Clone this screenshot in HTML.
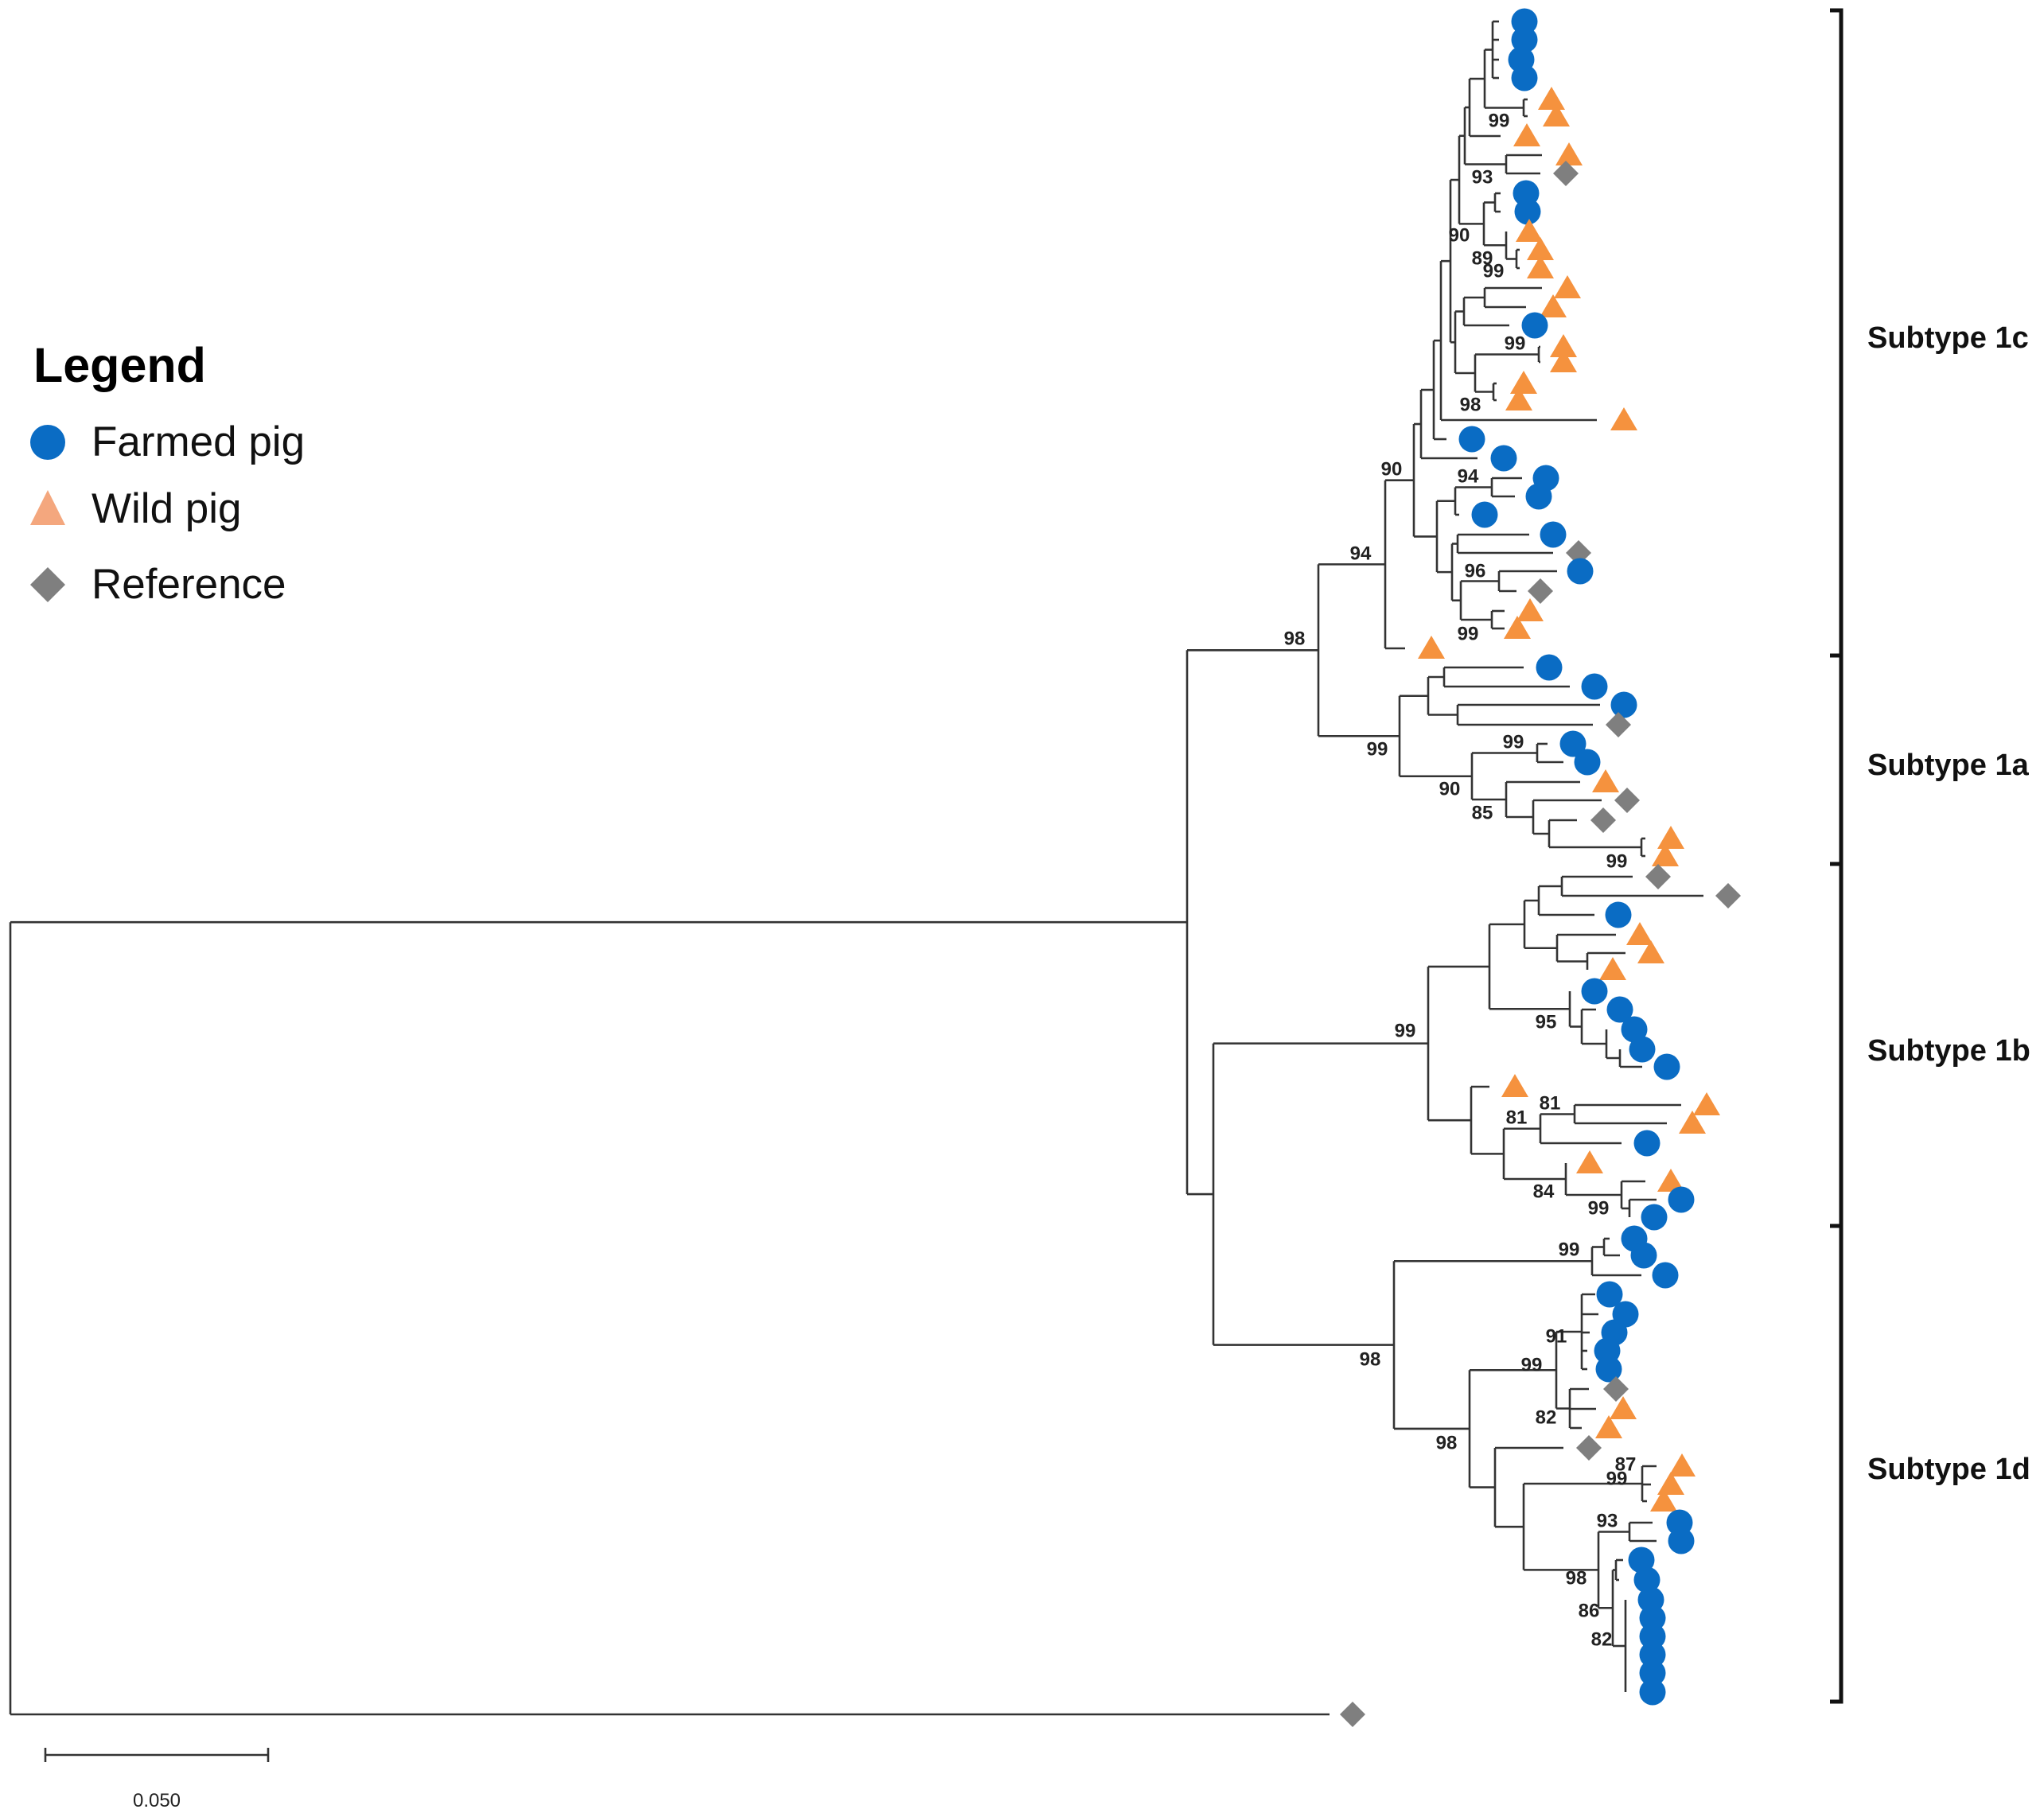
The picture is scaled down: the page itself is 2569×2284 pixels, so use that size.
<!DOCTYPE html>
<html><head><meta charset="utf-8"><title>Phylogenetic tree</title>
<style>html,body{margin:0;padding:0;background:#fff}svg{display:block}</style></head>
<body>
<svg id="chart" width="2569" height="2284" viewBox="0 0 2569 2284" xmlns="http://www.w3.org/2000/svg" font-family="Liberation Sans, Arial, sans-serif">
  <g id="branches" stroke="#333" stroke-width="2.6" fill="none"></g>
  <g id="labels" font-size="24" font-weight="bold" fill="#222" text-anchor="middle" dominant-baseline="central"></g>
  <g id="markers"></g>
  <g>
    <text x="42" y="480" font-size="61" font-weight="bold" fill="#000">Legend</text>
    <circle cx="60" cy="556" r="22" fill="#0a6cc4"/>
    <text x="115" y="573" font-size="53" fill="#111">Farmed pig</text>
    <polygon points="60,616 82,660 38,660" fill="#f4a77e"/>
    <text x="115" y="657" font-size="53" fill="#111">Wild pig</text>
    <polygon points="60,713 82,735 60,757 38,735" fill="#7f7f7f"/>
    <text x="115" y="752" font-size="53" fill="#111">Reference</text>
  </g>
  <g stroke="#333" stroke-width="2.6">
    <line x1="57" y1="2206" x2="337" y2="2206"/>
    <line x1="57" y1="2197" x2="57" y2="2215"/>
    <line x1="337" y1="2197" x2="337" y2="2215"/>
  </g>
  <text x="197" y="2271" font-size="24" fill="#222" text-anchor="middle">0.050</text>
  <g stroke="#111" stroke-width="5" fill="none">
    <path d="M2300,13 H2314 V2139 H2300 M2300,824 H2314 M2300,1086 H2314 M2300,1541 H2314"/>
  </g>
  <g font-size="38" font-weight="bold" fill="#111">
    <text x="2347" y="437">Subtype 1c</text>
    <text x="2347" y="974">Subtype 1a</text>
    <text x="2347" y="1333">Subtype 1b</text>
    <text x="2347" y="1859">Subtype 1d</text>
  </g>
</svg>
<script>
// Tree data: N(nodeX, children), T(branchEndX, tipY, type, markerX)
function N(x, c) { return {x: x, c: c}; }
function T(x, y, t, mx) { return {x: x, y: y, t: t, mx: mx}; }

const clade1c = N(1802,[
 N(1811,[
  N(1823,[
   N(1834,[
    N(1841,[
     N(1847,[
      N(1866,[ N(1876,[T(1884,27,'c',1916),T(1884,50,'c',1916),T(1884,75,'c',1912),T(1884,98,'c',1916)]), N(1915,[T(1920,125,'t',1950),T(1920,146,'t',1956)]) ]),
      T(1886,171,'t',1919)
     ]),
     N(1893,[T(1938,195,'t',1972),T(1936,218,'d',1968)])
    ]),
    N(1865,[ N(1879,[T(1886,243,'c',1918),T(1886,266,'c',1920)]), N(1893,[T(1893,291,'t',1922), N(1906,[T(1910,314,'t',1936),T(1910,337,'t',1936)])]) ])
   ]),
   N(1829,[
    N(1840,[ N(1866,[T(1938,362,'t',1970),T(1918,386,'t',1952)]), T(1897,409,'c',1929) ]),
    N(1854,[ N(1934,[T(1936,436,'t',1965),T(1936,455,'t',1965)]), N(1877,[T(1881,482,'t',1915),T(1881,503,'t',1909)]) ])
   ])
  ]),
  T(2007,528,'t',2041)
 ]),
 T(1818,552,'c',1850)
]);
const clade1cLower = N(1806,[
 N(1829,[N(1875,[T(1913,601,'c',1943),T(1904,624,'c',1934)]), T(1834,647,'c',1866)]),
 N(1825,[N(1832,[T(1922,672,'c',1952),T(1952,695,'d',1984)]),
   N(1836,[N(1884,[T(1957,718,'c',1986),T(1906,743,'d',1936)]), N(1875,[T(1891,768,'t',1923),T(1891,790,'t',1907)])])])
]);
const node1c = N(1741,[ N(1777,[ N(1786,[clade1c, T(1857,576,'c',1890)]), clade1cLower ]), T(1766,815,'t',1799) ]);
const clade1a = N(1759,[
 N(1795,[N(1815,[T(1915,839,'c',1947),T(1973,863,'c',2004)]), N(1832,[T(2011,886,'c',2041),T(2002,911,'d',2034)])]),
 N(1850,[N(1932,[T(1945,935,'c',1977),T(1965,958,'c',1995)]),
   N(1893,[T(1986,983,'t',2018), N(1927,[T(2013,1006,'d',2045), N(1947,[T(1982,1031,'d',2015), N(2063,[T(2068,1054,'t',2100),T(2068,1076,'t',2093)])])])])])
]);
const clade1b = N(1795,[
 N(1872,[
  N(1916,[N(1934,[N(1963,[T(2052,1102,'d',2084),T(2141,1126,'d',2172)]), T(2004,1150,'c',2034)]),
          N(1957,[T(2031,1175,'t',2061), N(1995,[T(2043,1198,'t',2075),T(1995,1219,'t',2027)])])]),
  N(1973,[T(1973,1246,'c',2004), N(1988,[T(2006,1269,'c',2036), N(2019,[T(2019,1294,'c',2054), N(2036,[T(2036,1319,'c',2064),T(2064,1341,'c',2095)])])])])
 ]),
 N(1849,[T(1872,1366,'t',1904),
  N(1890,[N(1936,[N(1979,[T(2113,1389,'t',2145),T(2095,1412,'t',2127)]), T(2038,1437,'c',2070)]),
          N(1968,[T(1968,1462,'t',1998), N(2038,[T(2068,1485,'t',2100), N(2048,[T(2082,1508,'c',2113),T(2048,1530,'c',2079)])])])])
 ])
]);
const clade1d = N(1752,[
 N(2001,[N(2016,[T(2023,1557,'c',2054),T(2036,1578,'c',2066)]), T(2063,1603,'c',2093)]),
 N(1847,[
  N(1956,[N(1988,[T(2005,1627,'c',2023),T(2009,1652,'c',2043),T(1998,1675,'c',2029),T(1995,1698,'c',2020),T(1995,1721,'c',2022)]),
          N(1973,[T(1997,1746,'d',2031),T(2006,1771,'t',2040),T(1988,1795,'t',2022)])]),
  N(1879,[T(1965,1820,'d',1997),
   N(1915,[N(2064,[T(2082,1843,'t',2114),T(2075,1866,'t',2100),T(2070,1887,'t',2091)]),
     N(2009,[N(2048,[T(2077,1914,'c',2111),T(2082,1937,'c',2113)]),
       N(2027,[N(2031,[T(2040,1961,'c',2063),T(2035,1986,'c',2070)]),
         N(2043,[T(2043,2011,'c',2075),T(2043,2034,'c',2077),T(2043,2057,'c',2077),T(2043,2080,'c',2077),T(2043,2103,'c',2077),T(2043,2127,'c',2077)])])])])
  ])
 ])
]);
const tree = N(13,[ N(1492,[ N(1657,[node1c, clade1a]), N(1525,[clade1b, clade1d]) ]), T(1671,2155,'d',1700) ]);

const supportText = ['99','93','90','89','99','99','98','90','94','96','99','94','98','99','99','90','85','99','99','95','81','81','84','99','99','98','98','99','91','82','87','99','93','98','86','82'];
const supportX = [1884,1863,1834,1863,1877,1904,1848,1749,1845,1854,1845,1710,1627,1731,1902,1822,1863,2032,1766,1943,1948,1906,1940,2009,1972,1722,1818,1925,1956,1943,2043,2032,2020,1981,1997,2013];
const supportY = [152,223,296,325,341,432,509,590,599,718,797,696,803,942,933,992,1022,1083,1296,1285,1387,1405,1498,1519,1571,1709,1814,1716,1680,1782,1841,1859,1912,1984,2025,2061];

const NS = 'http://www.w3.org/2000/svg';
const gB = document.getElementById('branches');
const gM = document.getElementById('markers');
const gL = document.getElementById('labels');
const colors = {c:'#0a6cc4', t:'#f5923e', d:'#7f7f7f'};

function layout(n) {
  if (!n.c) return n.y;
  n.c.forEach(layout);
  n.y = (n.c[0].y + n.c[n.c.length-1].y) / 2;
  return n.y;
}
layout(tree);

function line(x1,y1,x2,y2) {
  const l = document.createElementNS(NS,'line');
  l.setAttribute('x1',x1); l.setAttribute('y1',y1); l.setAttribute('x2',x2); l.setAttribute('y2',y2);
  
  
  gB.appendChild(l);
}
function marker(t, x, y) {
  let el;
  if (t === 'c') {
    el = document.createElementNS(NS,'circle');
    el.setAttribute('cx',x); el.setAttribute('cy',y); el.setAttribute('r',16.5);
    
  } else if (t === 't') {
    el = document.createElementNS(NS,'polygon');
    el.setAttribute('points', x+','+(y-16)+' '+(x+17)+','+(y+13)+' '+(x-17)+','+(y+13));
    
  } else {
    el = document.createElementNS(NS,'polygon');
    el.setAttribute('points', x+','+(y-16)+' '+(x+16)+','+y+' '+x+','+(y+16)+' '+(x-16)+','+y);
    
  }
  
  el.setAttribute('fill', colors[t]);
  gM.appendChild(el);
}
function draw(n) {
  if (!n.c) { marker(n.t, n.mx, n.y); return; }
  line(n.x, n.c[0].y, n.x, n.c[n.c.length-1].y);
  n.c.forEach(function(ch){ line(n.x, ch.y, ch.x, ch.y); draw(ch); });
}
draw(tree);

for (let i = 0; i < supportText.length; i++) {
  const t = document.createElementNS(NS,'text');
  t.setAttribute('x', supportX[i]); t.setAttribute('y', supportY[i]);
  t.textContent = supportText[i];
  
  
  gL.appendChild(t);
}
</script>
</body></html>
